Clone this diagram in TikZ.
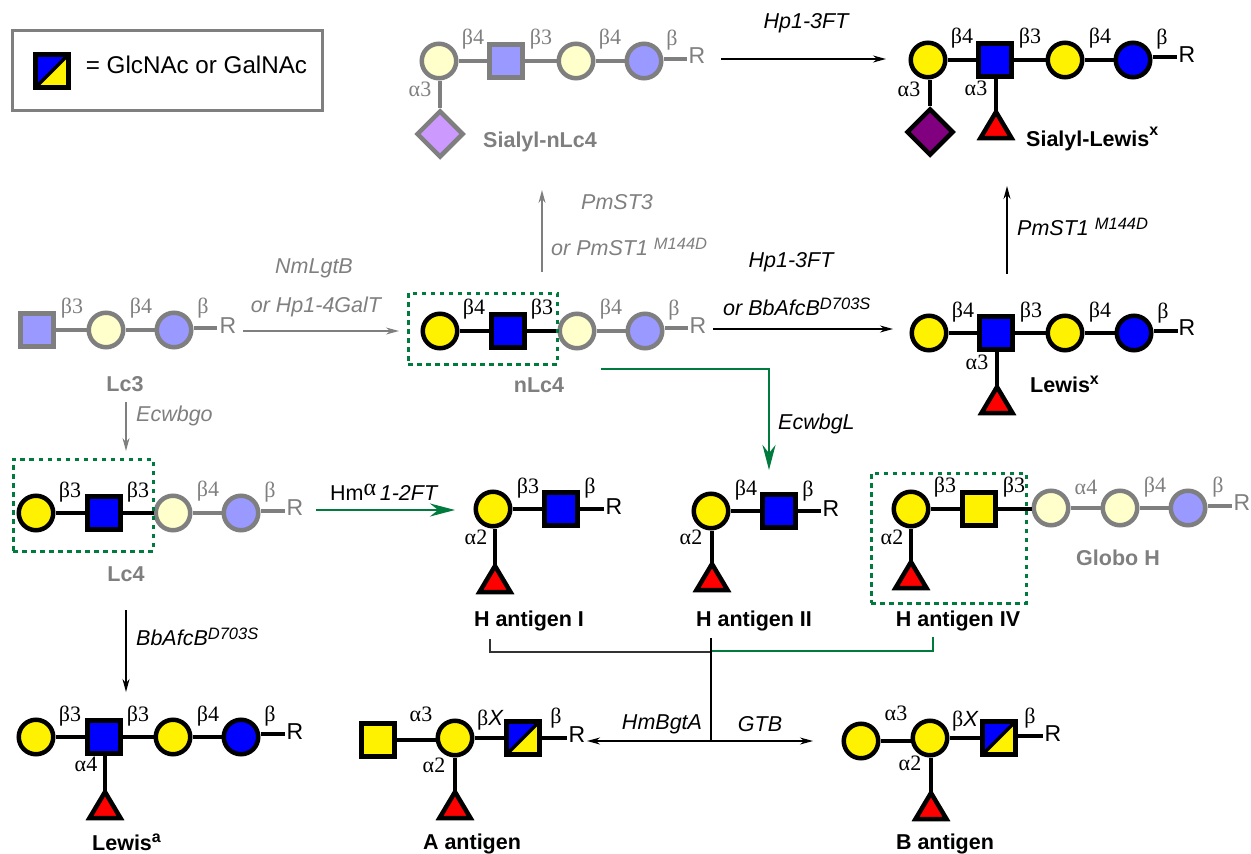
\documentclass[tikz,border=0pt]{standalone}
\usepackage{fontspec}
\setmainfont{Liberation Sans}
\newfontfamily\ser{Liberation Serif}
\usetikzlibrary{arrows.meta,shapes.geometric}
\definecolor{gy}{HTML}{7F7F7F}
\definecolor{pale}{HTML}{FFFFCC}
\definecolor{peri}{HTML}{9999FF}
\definecolor{lilac}{HTML}{CC99FF}
\definecolor{pur}{HTML}{800080}
\definecolor{grn}{HTML}{007A3D}
\newcommand{\supf}[1]{\raisebox{6pt}{\fontsize{16.5}{18}\selectfont #1}}
\tikzset{
  glyc/.style={inner sep=0pt,line width=4.5pt,draw=black},
  cir/.style={glyc,circle,minimum size=34.5pt},
  sq/.style={glyc,rectangle,minimum size=33pt},
  dia/.style={glyc,diamond,minimum width=47pt,minimum height=47pt},
  tri/.style={glyc,isosceles triangle,shape border rotate=90,isosceles triangle stretches,
    minimum width=31pt,minimum height=26pt,anchor=apex,fill=red,outer sep=0pt},
  Gal/.style={cir,fill=yellow},
  Glc/.style={cir,fill=blue},
  Nac/.style={sq,fill=blue},
  Gsq/.style={sq,fill=yellow},
  Sia/.style={dia,fill=pur},
  gGal/.style={cir,fill=pale,draw=gy},
  gGlc/.style={cir,fill=peri,draw=gy},
  gNac/.style={sq,fill=peri,draw=gy},
  gSia/.style={dia,fill=lilac,draw=gy},
  splitsq/.style={sq,fill=yellow,path picture={
    \fill[blue] (path picture bounding box.north west) -- (path picture bounding box.north east) -- (path picture bounding box.south west) -- cycle;
    \draw[line width=3.5pt] (path picture bounding box.south west) -- (path picture bounding box.north east);}},
  bond/.style={line width=4.5pt,black},
  gbond/.style={line width=4.5pt,gy},
  lk/.style={font=\ser\fontsize{22}{24}\selectfont,inner sep=0pt,text=black},
  glk/.style={lk,text=gy},
  rr/.style={font=\fontsize{23}{25}\selectfont,inner sep=0pt,text=black},
  grr/.style={rr,text=gy},
  nm/.style={font=\bfseries\fontsize{21.5}{24}\selectfont,inner sep=0pt,text=black},
  gnm/.style={nm,text=gy},
  enz/.style={font=\itshape\fontsize{21.5}{24}\selectfont,inner sep=0pt,text=black},
  genz/.style={enz,text=gy},
  arr/.style={line width=1.3pt,black,-{Stealth[length=13pt,width=7pt]}},
  garr/.style={line width=1.3pt,gy,-{Stealth[length=13pt,width=7pt]}},
  grarr/.style={line width=2.5pt,grn,-{Stealth[length=25pt,width=13pt]}},
  dbox/.style={draw=grn,line width=3pt,dash pattern=on 4.5pt off 4.5pt,inner sep=0pt,fill=none},
  thinl/.style={line width=1.1pt,black!80}
}
\begin{document}
\begin{tikzpicture}[x=1pt,y=-1pt]
\useasboundingbox (0,0) rectangle (1251,854);
% legend
\node[draw=gy,line width=3pt,minimum width=310pt,minimum height=80pt,inner sep=0pt] (legend) at (167.5,70.5) {};
\node[splitsq] (legsq) at (52,71) {};
\node[font=\fontsize{24.2}{28}\selectfont,inner sep=0pt] (legtxt) at (196.5,65) {= GlcNAc or GalNAc};

% Sialyl-nLc4
\node[gGal] (a1) at (439,61) {};
\node[gNac] (a2) at (506,61) {};
\node[gGal] (a3) at (576,61) {};
\node[gGlc] (a4) at (644,61) {};
\node[gSia] (a5) at (440,134) {};
\coordinate (a6) at (687,59);
\draw[gbond] (a1)--(a2); \draw[gbond] (a2)--(a3); \draw[gbond] (a3)--(a4); \draw[gbond] (a4.east |- a6)--(a6); \draw[gbond] (a1.south -| a5)--(a5);
\node[grr] (aR) at (697,56) {R};
\node[glk] (al1) at (473,39) {β4};
\node[glk] (al2) at (541,39) {β3};
\node[glk] (al3) at (610,39) {β4};
\node[glk] (al4) at (672,40) {β};
\node[glk] (al5) at (420,89) {α3};
\node[gnm] (an) at (540,142) {Sialyl-nLc4};

% Sialyl-Lewis x
\node[Gal] (b1) at (928,60) {};
\node[Nac] (b2) at (995,60) {};
\node[Gal] (b3) at (1065,60) {};
\node[Glc] (b4) at (1133,60) {};
\node[Sia] (b5) at (930,132) {};
\node[tri] (b6) at (996,112) {};
\coordinate (b7) at (1177,57);
\draw[bond] (b1)--(b2); \draw[bond] (b2)--(b3); \draw[bond] (b3)--(b4); \draw[bond] (b4.east |- b7)--(b7); \draw[bond] (b1.south -| b5)--(b5); \draw[bond] (b2.south -| b6.apex)--(b6.apex);
\node[rr] (bR) at (1187,55) {R};
\node[lk] (bl1) at (962,38) {β4};
\node[lk] (bl2) at (1030,38) {β3};
\node[lk] (bl3) at (1100,38) {β4};
\node[lk] (bl4) at (1162,39) {β};
\node[lk] (bl5) at (909,89) {α3};
\node[lk] (bl6) at (976,88) {α3};
\node[nm,anchor=west] (bn) at (1026,139) {Sialyl-Lewis\raisebox{11pt}{\fontsize{16}{18}\selectfont x}};

% Lewis x
\node[Gal] (c1) at (929,333) {};
\node[Nac] (c2) at (996,333) {};
\node[Gal] (c3) at (1065,333) {};
\node[Glc] (c4) at (1134,333) {};
\node[tri] (c6) at (997,387) {};
\coordinate (c7) at (1178,331);
\draw[bond] (c1)--(c2); \draw[bond] (c2)--(c3); \draw[bond] (c3)--(c4); \draw[bond] (c4.east |- c7)--(c7); \draw[bond] (c2.south -| c6.apex)--(c6.apex);
\node[rr] (cR) at (1187,328) {R};
\node[lk] (cl1) at (963,312) {β4};
\node[lk] (cl2) at (1031,312) {β3};
\node[lk] (cl3) at (1100,312) {β4};
\node[lk] (cl4) at (1163,313) {β};
\node[lk] (cl5) at (977,362) {α3};
\node[nm,anchor=west] (cn) at (1030,384) {Lewis\raisebox{8pt}{\fontsize{16}{18}\selectfont x}};

% nLc4
\node[Gal] (d1) at (440,331) {};
\node[Nac] (d2) at (508,331) {};
\node[gGal] (d3) at (577,331) {};
\node[gGlc] (d4) at (645,331) {};
\coordinate (d7) at (688,328);
\draw[bond] (d1)--(d2); \draw[bond] (d2)--(d3); \draw[gbond] (d3)--(d4); \draw[gbond] (d4.east |- d7)--(d7);
\node[grr] (dR) at (698,326) {R};
\node[lk] (dl1) at (474,309) {β4};
\node[lk] (dl2) at (542,309) {β3};
\node[glk] (dl3) at (611,309) {β4};
\node[glk] (dl4) at (674,310) {β};
\node[gnm] (dn) at (539,385) {nLc4};
\node[dbox,minimum width=149pt,minimum height=71pt] (dbx) at (482.5,328.5) {};

% Lc3
\node[gNac] (e1) at (37,330) {};
\node[gGal] (e2) at (106,330) {};
\node[gGlc] (e3) at (174,330) {};
\coordinate (e7) at (217,328);
\draw[gbond] (e1)--(e2); \draw[gbond] (e2)--(e3); \draw[gbond] (e3.east |- e7)--(e7);
\node[grr] (eR) at (228,326) {R};
\node[glk] (el1) at (72,308) {β3};
\node[glk] (el2) at (141,308) {β4};
\node[glk] (el3) at (203,308) {β};
\node[gnm] (en) at (125,384) {Lc3};

% Lc4
\node[Gal] (f1) at (36,513) {};
\node[Nac] (f2) at (104,513) {};
\node[gGal] (f3) at (173,513) {};
\node[gGlc] (f4) at (241,513) {};
\coordinate (f7) at (285,511);
\draw[bond] (f1)--(f2); \draw[bond] (f2)--(f3); \draw[gbond] (f3)--(f4); \draw[gbond] (f4.east |- f7)--(f7);
\node[grr] (fR) at (295,508) {R};
\node[lk] (fl1) at (70,492) {β3};
\node[lk] (fl2) at (138,492) {β3};
\node[glk] (fl3) at (208,491) {β4};
\node[glk] (fl4) at (270,492) {β};
\node[gnm] (fn) at (126,574) {Lc4};
\node[dbox,minimum width=140pt,minimum height=92pt] (fbx) at (83,505) {};

% Lewis a
\node[Gal] (g1) at (36,737) {};
\node[Nac] (g2) at (104,737) {};
\node[Gal] (g3) at (173,737) {};
\node[Glc] (g4) at (241,737) {};
\node[tri] (g6) at (105,792) {};
\coordinate (g7) at (285,734);
\draw[bond] (g1)--(g2); \draw[bond] (g2)--(g3); \draw[bond] (g3)--(g4); \draw[bond] (g4.east |- g7)--(g7); \draw[bond] (g2.south -| g6.apex)--(g6.apex);
\node[rr] (gR) at (295,732) {R};
\node[lk] (gl1) at (70,716) {β3};
\node[lk] (gl2) at (138,716) {β3};
\node[lk] (gl3) at (208,716) {β4};
\node[lk] (gl4) at (270,716) {β};
\node[lk] (gl5) at (86,764) {α4};
\node[nm,anchor=west] (gn) at (92,842) {Lewis\raisebox{8pt}{\fontsize{16}{18}\selectfont a}};

% H antigen I
\node[Gal] (h1) at (493,509) {};
\node[Nac] (h2) at (561,509) {};
\node[tri] (h6) at (495,566) {};
\coordinate (h7) at (604,509);
\draw[bond] (h1)--(h2); \draw[bond] (h2)--(h7); \draw[bond] (h1.south -| h6.apex)--(h6.apex);
\node[rr] (hR) at (614,507) {R};
\node[lk] (hl1) at (528,488) {β3};
\node[lk] (hl2) at (590,488) {β};
\node[lk] (hl3) at (476,537) {α2};
\node[nm] (hn) at (529,621) {H antigen I};

% H antigen II
\node[Gal] (i1) at (711,511) {};
\node[Nac] (i2) at (779,511) {};
\node[tri] (i6) at (712,564) {};
\coordinate (i7) at (821,511);
\draw[bond] (i1)--(i2); \draw[bond] (i2)--(i7); \draw[bond] (i1.south -| i6.apex)--(i6.apex);
\node[rr] (iR) at (831,509) {R};
\node[lk] (il1) at (746,490) {β4};
\node[lk] (il2) at (808,491) {β};
\node[lk] (il3) at (691,537) {α2};
\node[nm] (in2) at (754,621) {H antigen II};

% H antigen IV + Globo H
\node[Gal] (j1) at (911,509) {};
\node[Gsq] (j2) at (979,509) {};
\node[gGal] (j3) at (1051,508) {};
\node[gGal] (j4) at (1120,508) {};
\node[gGlc] (j5) at (1188,508) {};
\node[tri] (j6) at (911,562) {};
\coordinate (j7) at (1232,506);
\draw[bond] (j1)--(j2); \draw[bond] (j2.east)--(j3.west |- j2.east); \draw[gbond] (j3)--(j4); \draw[gbond] (j4)--(j5); \draw[gbond] (j5.east |- j7)--(j7); \draw[bond] (j1)--(j6.apex);
\node[grr] (jR) at (1242,503) {R};
\node[lk] (jl1) at (945,487) {β3};
\node[lk] (jl2) at (1014,487) {β3};
\node[glk] (jl3) at (1086,487) {α4};
\node[glk] (jl4) at (1155,487) {β4};
\node[glk] (jl5) at (1218,487) {β};
\node[lk] (jl6) at (892,537) {α2};
\node[nm] (jn) at (958,621) {H antigen IV};
\node[gnm] (jg) at (1118,558) {Globo H};
\node[dbox,minimum width=155pt,minimum height=130pt] (jbx) at (948.5,538) {};

% A antigen
\node[Gsq] (k1) at (378,740) {};
\node[Gal] (k2) at (455,738) {};
\node[splitsq] (k3) at (523,738) {};
\node[tri] (k6) at (455,792) {};
\coordinate (k7) at (567,738);
\draw[bond] (k1.east)--(k2.west |- k1.east); \draw[bond] (k2)--(k3); \draw[bond] (k3)--(k7); \draw[bond] (k2)--(k6.apex);
\node[rr] (kR) at (577,735) {R};
\node[lk] (kl1) at (421,714) {α3};
\node[lk] (kl2) at (490,720) {β{\rmfamily\itshape X}};
\node[lk] (kl3) at (556,718) {β};
\node[lk] (kl4) at (434,765) {α2};
\node[nm] (kn) at (472,844) {A antigen};

% B antigen
\node[Gal] (m1) at (861,741) {};
\node[Gal] (m2) at (930,738) {};
\node[splitsq] (m3) at (999,738) {};
\node[tri] (m6) at (931,793) {};
\coordinate (m7) at (1043,736);
\draw[bond] (m1.east)--(m2.west |- m1.east); \draw[bond] (m2)--(m3); \draw[bond] (m3.east |- m7)--(m7); \draw[bond] (m2.south -| m6.apex)--(m6.apex);
\node[rr] (mR) at (1053,734) {R};
\node[lk] (ml1) at (896,713) {α3};
\node[lk] (ml2) at (965,721) {β{\rmfamily\itshape X}};
\node[lk] (ml3) at (1030,718) {β};
\node[lk] (ml4) at (910,763) {α2};
\node[nm] (mn) at (945,844) {B antigen};

% reaction arrows
\coordinate (r1s) at (721,59); \coordinate (r1e) at (886,59);
\draw[arr] (r1s)--(r1e);
\node[enz] (t1) at (806,23) {Hp1-3FT};
\coordinate (r2s) at (1007,274); \coordinate (r2e) at (1007,186);
\draw[arr] (r2s)--(r2e);
\node[enz,anchor=west] (t2) at (1017,227) {PmST1 \supf{M144D}};
\coordinate (r3s) at (713,329); \coordinate (r3e) at (893,329);
\draw[arr] (r3s)--(r3e);
\node[enz] (t3) at (791,262) {Hp1-3FT};
\node[enz,anchor=west] (t4) at (723,307) {or BbAfcB\supf{D703S}};
\coordinate (r4s) at (243,331); \coordinate (r4e) at (399,331);
\draw[garr] (r4s)--(r4e);
\node[genz] (t5) at (314,268) {NmLgtB};
\node[genz] (t6) at (316,307) {or Hp1-4GalT};
\coordinate (r5s) at (542,272); \coordinate (r5e) at (542,190);
\draw[garr] (r5s)--(r5e);
\node[genz] (t7) at (617,202) {PmST3};
\node[genz,anchor=west] (t8) at (551,247) {or PmST1 \supf{M144D}};
\coordinate (r6s) at (126,402); \coordinate (r6e) at (126,451);
\draw[garr] (r6s)--(r6e);
\node[genz,anchor=west] (t9) at (136,416) {Ecwbgo};
\coordinate (r7s) at (126,610); \coordinate (r7e) at (126,692);
\draw[arr] (r7s)--(r7e);
\node[enz,anchor=west] (t10) at (136,637) {BbAfcB\supf{D703S}};
\coordinate (r8s) at (316,510); \coordinate (r8e) at (455,510);
\draw[grarr] (r8s)--(r8e);
\node[font=\fontsize{21.5}{24}\selectfont,inner sep=0pt,anchor=west] (t11) at (330,492) {Hm\raisebox{5pt}{\ser\fontsize{24}{26}\selectfont α}{\itshape\,1-2FT}};
\coordinate (r9s) at (601,369); \coordinate (r9c) at (769,369); \coordinate (r9e) at (769,470);
\draw[grarr] (r9s)--(r9c)--(r9e);
\node[enz,anchor=west] (t12) at (778,424) {EcwbgL};

% bracket and split
\coordinate (q1) at (490,639); \coordinate (q2) at (490,652); \coordinate (q3) at (711,652);
\coordinate (q4) at (933,637); \coordinate (q5) at (933,651); \coordinate (q6) at (711,651);
\coordinate (q7) at (711,638); \coordinate (q8) at (711,741);
\coordinate (q9) at (587,741); \coordinate (q10) at (813,741);
\draw[thinl] (q1)--(q2)--(q3);
\draw[line width=1.6pt,grn] (q4)--(q5)--(q6);
\draw[line width=1.1pt,black] (q7)--(q8);
\draw[arr] (q8)--(q9);
\draw[arr] (q8)--(q10);
\node[enz] (t13) at (662,724) {HmBgtA};
\node[enz] (t14) at (760,724) {GTB};
\end{tikzpicture}
\end{document}
